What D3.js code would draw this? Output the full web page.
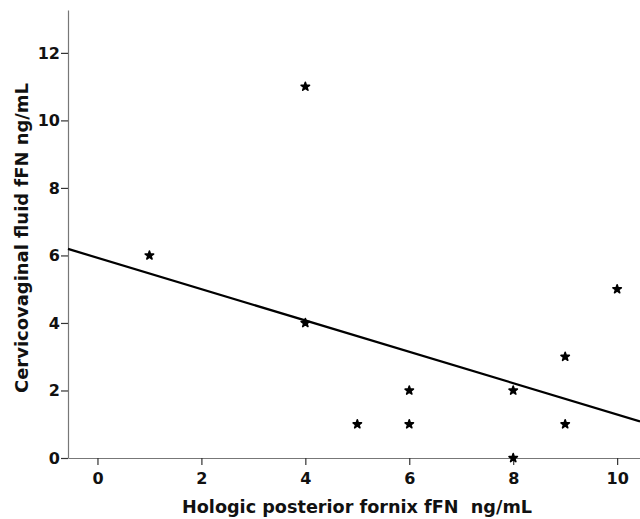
<!DOCTYPE html>
<html>
<head>
<meta charset="utf-8">
<script src="https://cdn.jsdelivr.net/npm/d3@7"></script>
<style>
  body { margin:0; background:#fff; }
  .tick text { font-family:"DejaVu Sans", sans-serif; font-size:16px; font-weight:600; fill:#111; }
  .axis-title { font-family:"DejaVu Sans", sans-serif; font-size:18px; font-weight:bold; fill:#111; white-space:pre; }
</style>
</head>
<body>
<div id="chart"></div>
<script>
// data
var hologic = [1, 4, 4, 5, 6, 6, 8, 8, 9, 9, 10];
var cervico = [6, 11, 4, 1, 2, 1, 2, 0, 3, 1, 5];
var xTicks = [0, 2, 4, 6, 8, 10];
var yTicks = [0, 2, 4, 6, 8, 10, 12];
// fitted line as drawn
var fitIntercept = 5.93;
var fitSlope = -0.464;

var svgWidth = 640, svgHeight = 519;
var margin = {top:10, right:0, bottom:61, left:68};
var chartWidth = svgWidth - margin.left - margin.right;
var chartHeight = svgHeight - margin.top - margin.bottom;

var svg = d3.select("#chart").append("svg")
    .attr("width", svgWidth)
    .attr("height", svgHeight);

var chartGroup = svg.append("g")
    .attr("transform", `translate(${margin.left}, ${margin.top})`);

var xScale = d3.scaleLinear().domain([-0.567, 10.44]).range([0, chartWidth]);
var yScale = d3.scaleLinear().domain([0, 13.27]).range([chartHeight, 0]);

var xAxis = chartGroup.append("g")
    .attr("transform", `translate(0, ${chartHeight})`)
    .call(d3.axisBottom(xScale).tickValues(xTicks).tickSize(7).tickSizeOuter(0).tickPadding(8));

var yAxis = chartGroup.append("g")
    .call(d3.axisLeft(yScale).tickValues(yTicks).tickSize(7).tickSizeOuter(0).tickPadding(1));

[xAxis, yAxis].forEach(function(a) {
    a.select(".domain").attr("stroke", "#777").attr("stroke-width", 1.2);
    a.selectAll(".tick line").attr("stroke", "#333").attr("stroke-width", 1.2);
});

// regression line
var x0 = xScale.domain()[0], x1 = xScale.domain()[1];
chartGroup.append("line")
    .attr("x1", xScale(x0)).attr("y1", yScale(fitIntercept + fitSlope * x0))
    .attr("x2", xScale(x1)).attr("y2", yScale(fitIntercept + fitSlope * x1))
    .attr("stroke", "#000").attr("stroke-width", 2.2);

// points
var star = d3.symbol().type(d3.symbolStar).size(22);
chartGroup.selectAll("path.pt")
    .data(hologic)
    .enter()
    .append("path")
    .attr("class", "pt")
    .attr("d", star)
    .attr("transform", (d, i) => `translate(${xScale(d)}, ${yScale(cervico[i])})`)
    .attr("fill", "#000")
    .attr("stroke", "#000")
    .attr("stroke-width", 1.6)
    .attr("stroke-linejoin", "round");

// axis titles
svg.append("text")
    .attr("class", "axis-title")
    .attr("x", 357).attr("y", 513)
    .attr("text-anchor", "middle")
    .attr("textLength", 350)
    .attr("lengthAdjust", "spacingAndGlyphs")
    .text("Hologic posterior fornix fFN  ng/mL");

svg.append("text")
    .attr("class", "axis-title")
    .attr("transform", "rotate(-90)")
    .attr("x", -238).attr("y", 28)
    .attr("text-anchor", "middle")
    .attr("textLength", 310)
    .attr("lengthAdjust", "spacingAndGlyphs")
    .text("Cervicovaginal fluid fFN ng/mL");
</script>
</body>
</html>
